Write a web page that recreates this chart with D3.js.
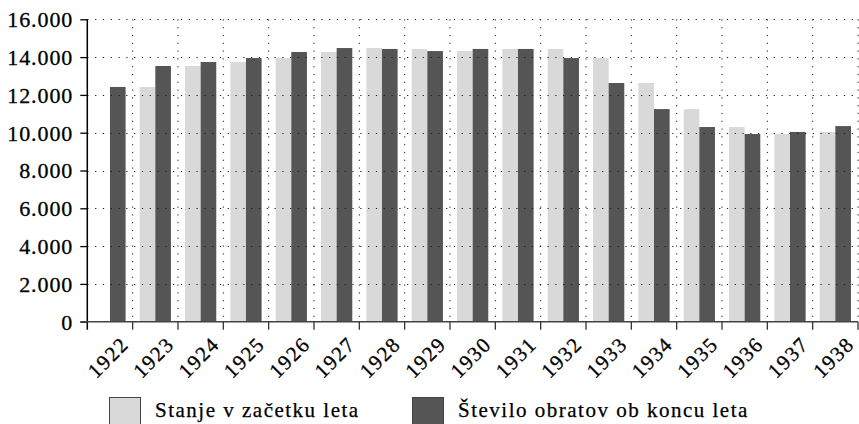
<!DOCTYPE html>
<html>
<head>
<meta charset="utf-8">
<script src="https://cdn.jsdelivr.net/npm/d3@7/dist/d3.min.js"></script>
<style>
  html, body { margin: 0; padding: 0; background: #fff; }
  svg { display: block; }
</style>
</head>
<body>
<svg id="chart" width="859" height="424"></svg>
<script>
// Years on the x axis
const years = ["1922","1923","1924","1925","1926","1927","1928","1929","1930",
               "1931","1932","1933","1934","1935","1936","1937","1938"];

// Number of establishments at the start of the year (no figure for 1922)
const startOfYear = [null, 12420, 13530, 13740, 13950, 14270, 14480, 14430, 14320,
                     14430, 14430, 13950, 12630, 11250, 10300, 9930, 10040];

// Number of establishments at the end of the year
const endOfYear = [12420, 13530, 13740, 13950, 14270, 14480, 14430, 14320, 14430,
                   14430, 13950, 12630, 11250, 10300, 9930, 10040, 10350];

const seriesNames = ["Stanje v začetku leta", "Število obratov ob koncu leta"];
const seriesColors = ["#d9d9d9", "#555555"];

const yTicks = [0, 2000, 4000, 6000, 8000, 10000, 12000, 14000, 16000];

const FONT = "Liberation Serif, Times New Roman, serif";

const svg = d3.select("#chart");
const plotLeft = 87.3, plotRight = 858, plotTop = 19.3, plotBottom = 321.7;

const x0 = d3.scaleBand().domain(years).range([plotLeft, plotRight]).padding(0);
const x1 = d3.scaleBand().domain([0, 1]).range([0, x0.bandwidth()])
  .paddingInner(0).paddingOuter(0.45);
const y = d3.scaleLinear().domain([0, 16000]).range([plotBottom, plotTop]);

const fmt = v => d3.format(",")(v).replace(/,/g, ".");

// Bars
const rows = years.map((yr, i) => ({ year: yr, values: [startOfYear[i], endOfYear[i]] }));
const groups = svg.append("g").selectAll("g").data(rows).join("g")
  .attr("transform", d => `translate(${x0(d.year)},0)`);
groups.selectAll("rect")
  .data(d => d.values.map((v, k) => ({ v, k })).filter(e => e.v != null))
  .join("rect")
  .attr("x", e => x1(e.k))
  .attr("width", x1.bandwidth())
  .attr("y", e => y(e.v))
  .attr("height", e => plotBottom - y(e.v))
  .attr("fill", e => seriesColors[e.k]);

// Dotted grid, drawn over the bars
const grid = svg.append("g")
  .attr("stroke", "#1a1a1a").attr("stroke-width", 1).attr("stroke-dasharray", "1.2,6.6");
grid.selectAll("line.h").data(yTicks.filter(t => t > 0)).join("line")
  .attr("class", "h")
  .attr("x1", plotLeft).attr("x2", plotRight)
  .attr("y1", d => Math.round(y(d)) + 0.5).attr("y2", d => Math.round(y(d)) + 0.5);
const boundaries = years.slice(1).map(yr => x0(yr)).concat([plotRight]);
grid.selectAll("line.v").data(boundaries).join("line")
  .attr("class", "v")
  .attr("x1", d => d).attr("x2", d => d)
  .attr("y1", plotTop).attr("y2", plotBottom);

// Y axis
const yAxis = svg.append("g")
  .attr("transform", `translate(${plotLeft},0)`)
  .call(d3.axisLeft(y).tickValues(yTicks).tickFormat(fmt).tickSize(7).tickPadding(8))
  .attr("font-family", FONT).attr("font-size", 22);
yAxis.select(".domain").attr("stroke", "#000").attr("stroke-width", 1.5)
  .attr("d", `M0,${plotTop}V${plotBottom + 8}`);
yAxis.selectAll(".tick line").attr("stroke", "#000").attr("stroke-width", 1.3);
const yLabels = yAxis.selectAll(".tick text")
  .attr("fill", "#000").attr("stroke", "#000").attr("stroke-width", 0.3)
  .attr("dy", "0.34em");
// Widen the tick labels a little so the longest one spans 65px
const widest = d3.max(yLabels.nodes(), n => n.getComputedTextLength());
const spread = 65 / widest;
yLabels.each(function () {
  const w = this.getComputedTextLength();
  if (this.textContent.length > 1) {
    d3.select(this).attr("textLength", w * spread).attr("lengthAdjust", "spacing");
  }
});

// X axis: ticks sit on the band boundaries
const xAxis = svg.append("g").attr("transform", `translate(0,${plotBottom})`);
xAxis.append("line").attr("x1", plotLeft - 7).attr("x2", plotRight)
  .attr("stroke", "#444").attr("stroke-width", 1.6);
xAxis.selectAll("line.tick").data(boundaries).join("line")
  .attr("class", "tick")
  .attr("x1", d => d).attr("x2", d => d).attr("y1", 0).attr("y2", 8)
  .attr("stroke", "#333").attr("stroke-width", 1.3);
xAxis.selectAll("text").data(years).join("text")
  .attr("font-family", FONT).attr("font-size", 21).attr("letter-spacing", 1.4)
  .attr("fill", "#000").attr("stroke", "#000").attr("stroke-width", 0.3)
  .attr("text-anchor", "end")
  .attr("transform", d => `translate(${x0(d) + x0.bandwidth() / 2 + 20},${24}) rotate(-45)`)
  .text(d => d);

// Legend
const legend = svg.append("g");
const legendItems = [
  { swatch: 109, text: 155 },
  { swatch: 412, text: 458 }
];
legendItems.forEach((it, k) => {
  legend.append("rect")
    .attr("x", it.swatch + 0.5).attr("y", 397.5)
    .attr("width", 31).attr("height", 31)
    .attr("fill", seriesColors[k]).attr("stroke", "#444").attr("stroke-width", 1);
  legend.append("text")
    .attr("font-family", FONT).attr("font-size", 21).attr("letter-spacing", 1.5)
    .attr("fill", "#000").attr("stroke", "#000").attr("stroke-width", 0.25)
    .attr("x", it.text).attr("y", 417).text(seriesNames[k]);
});
</script>
</body>
</html>
